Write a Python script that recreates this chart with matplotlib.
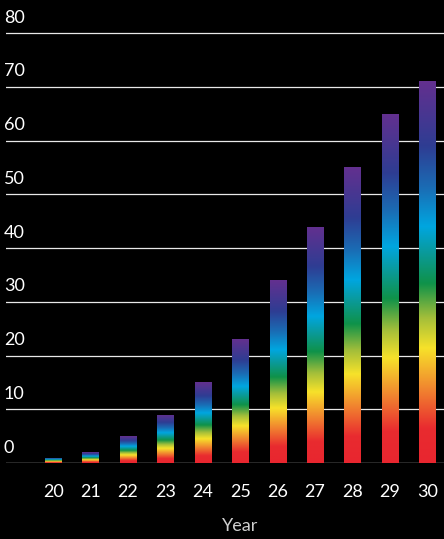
import matplotlib.pyplot as plt
import numpy as np
from matplotlib.colors import LinearSegmentedColormap

years = [20, 21, 22, 23, 24, 25, 26, 27, 28, 29, 30]
values = [1, 2, 5, 9, 15, 23, 34, 44, 55, 65, 71]
yticks = [0, 10, 20, 30, 40, 50, 60, 70, 80]

# rainbow running up each bar, red at the base to purple at the top
stops = [
    (0.00, '#e8262f'),
    (0.09, '#e92b2f'),
    (0.18, '#f07a30'),
    (0.30, '#f7e22a'),
    (0.38, '#a3be3a'),
    (0.47, '#0f9249'),
    (0.55, '#0a9a9a'),
    (0.62, '#00a6e0'),
    (0.72, '#1a6db5'),
    (0.83, '#2e3d93'),
    (1.00, '#63308f'),
]
rainbow = LinearSegmentedColormap.from_list('rainbow_bar', stops)

plt.rcParams['font.family'] = ['Lato', 'DejaVu Sans']

fig = plt.figure(figsize=(4.44, 5.39), dpi=100, facecolor='black')
ax = fig.add_axes([6 / 444, 76 / 539, 1 - 6 / 444, 462.25 / 539])
ax.set_facecolor('black')

bars = ax.bar(years, values, width=0.43, color='none', edgecolor='none', zorder=2)
grad = np.linspace(0, 1, 256).reshape(-1, 1)
for b in bars:
    x0, w, h = b.get_x(), b.get_width(), b.get_height()
    im = ax.imshow(grad, cmap=rainbow, origin='lower', aspect='auto',
                   extent=(x0, x0 + w, 0, h), zorder=2, interpolation='bilinear')
    im.set_clip_path(b)

ax.set_xlim(18.74, 30.45)
ax.set_ylim(0, 86)

for v in yticks:
    ax.axhline(v, color='#c8c8c8' if v == 0 else '#e8e8e8', lw=1.0 if v == 0 else 0.9, zorder=1)
    ax.annotate(str(v), xy=(0, v), xycoords=ax.get_yaxis_transform(),
                xytext=(-1.5, 7.5), textcoords='offset points',
                ha='left', va='baseline', color='white', fontsize=13)

for s in ax.spines.values():
    s.set_visible(False)
ax.set_yticks([])
ax.set_xticks(years)
ax.set_xticklabels([str(y) for y in years], color='white', fontsize=13)
ax.tick_params(axis='x', length=0, pad=15)

fig.text(240 / 444, 1 - 526 / 539, 'Year', ha='center', va='center', color='#cfcfcf', fontsize=13)

fig.savefig('out.png', dpi=100, facecolor='black')
